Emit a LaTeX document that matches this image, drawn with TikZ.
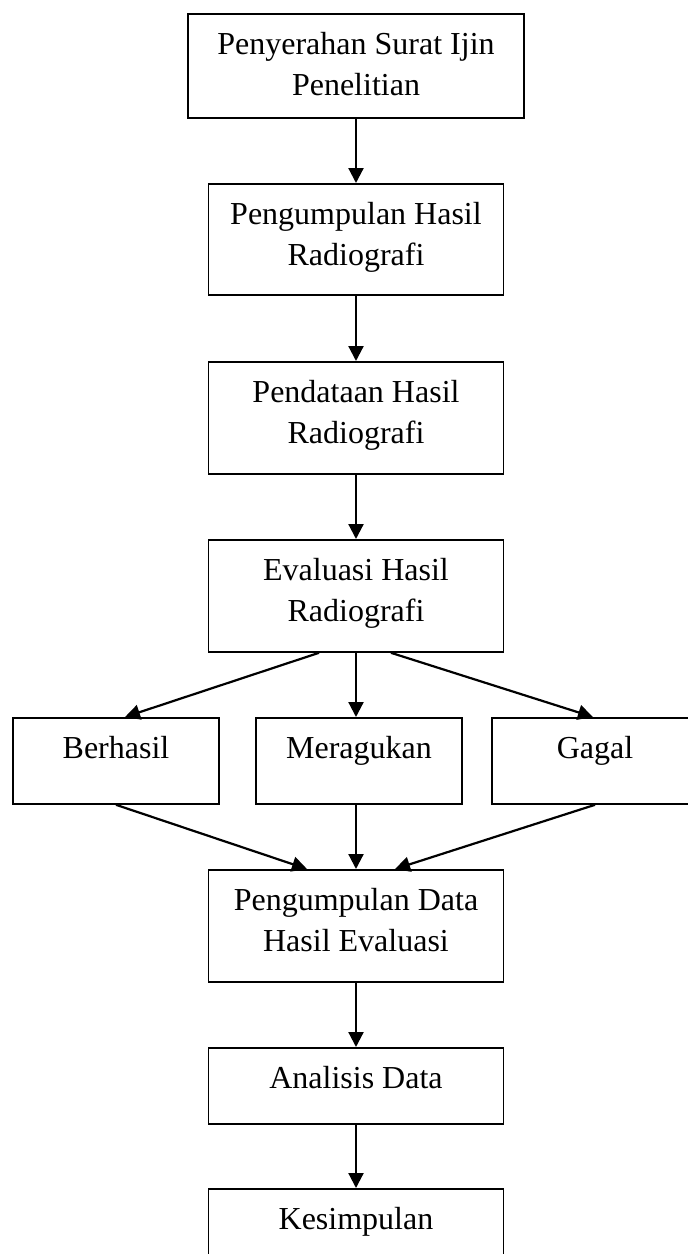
\documentclass[tikz,border=0pt]{standalone}
\usepackage{fontspec}
\setmainfont{Liberation Serif}
\usetikzlibrary{positioning,arrows.meta,calc}

\begin{document}
\begin{tikzpicture}[
    x=0.5pt, y=-0.5pt,
    box/.style={draw, line width=0.9pt, anchor=north, align=center,
                font=\fontsize{16}{20.5}\selectfont, inner xsep=4pt,
                inner ysep=9.5pt, text height=11pt},
    twoline/.style={box, minimum width=147.5pt, text height=31.5pt, text depth=5.5pt},
    oneline/.style={box, minimum width=147.5pt, text depth=8pt},
    pick/.style={box, minimum width=103pt, text depth=13pt},
    arr/.style={-{Triangle[length=7.5pt,width=7.5pt]}, line width=1.1pt},
]
\useasboundingbox (0,0) rectangle (687,1254);

% Main steps
\node[twoline, minimum width=168pt, text depth=1.5pt] (izin) at (356,13) {Penyerahan Surat Ijin\\Penelitian};
\node[twoline, text depth=5pt] (kumpul) at (356,183) {Pengumpulan Hasil\\Radiografi};
\node[twoline] (data) at (356,361) {Pendataan Hasil\\Radiografi};
\node[twoline] (eval) at (356,539) {Evaluasi Hasil\\Radiografi};

% Outcomes of the evaluation
\node[pick] (ok) at (116,717) {Berhasil};
\node[pick] (ragu) at (359,717) {Meragukan};
\node[pick] (gagal) at (595,717) {Gagal};

% Closing steps
\node[twoline] (rekap) at (356,869) {Pengumpulan Data\\Hasil Evaluasi};
\node[oneline] (analisis) at (356,1047) {Analisis Data};
\node[oneline] (simpulan) at (356,1188) {Kesimpulan};

% Arrows
\draw[arr] (izin.south) -- (kumpul.north);
\draw[arr] (kumpul.south) -- (data.north);
\draw[arr] (data.south) -- (eval.north);

\draw[arr] ([xshift=-18.5pt]eval.south) -- ([xshift=4.5pt]ok.north);
\draw[arr] (eval.south) -- (eval.south |- ragu.north);
\draw[arr] ([xshift=17.5pt]eval.south) -- ([xshift=-1pt]gagal.north);

\draw[arr] (ok.south) -- ([xshift=-24.5pt]rekap.north);
\draw[arr] (ragu.south -| rekap.north) -- (rekap.north);
\draw[arr] (gagal.south) -- ([xshift=19.5pt]rekap.north);

\draw[arr] (rekap.south) -- (analisis.north);
\draw[arr] (analisis.south) -- (simpulan.north);
\end{tikzpicture}
\end{document}
